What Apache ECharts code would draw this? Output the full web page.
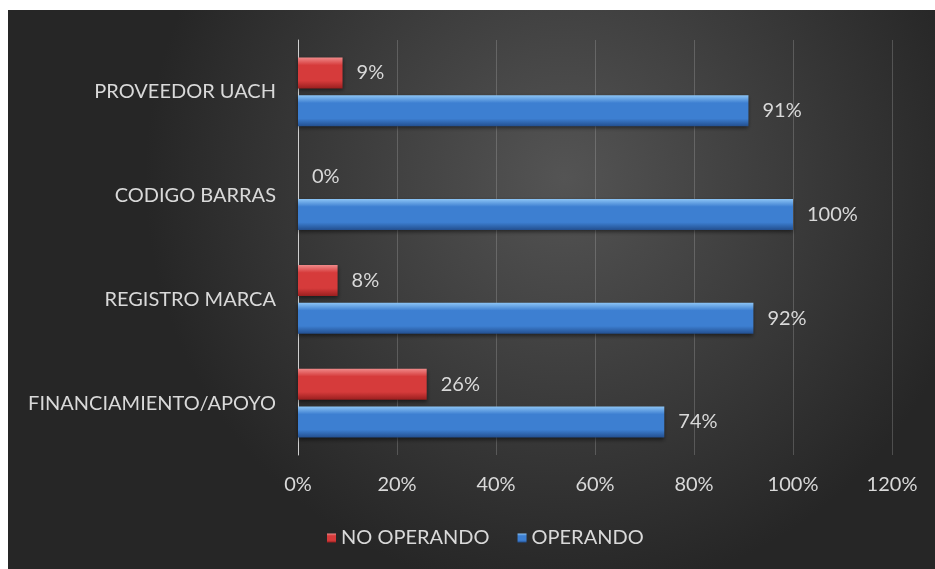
<!DOCTYPE html>
<html><head><meta charset="utf-8">
<script src="https://cdn.jsdelivr.net/npm/echarts@6/dist/echarts.min.js"></script>
<style>html,body{margin:0;padding:0;background:#fff}#c{width:935px;height:569px}</style>
</head><body><div id="c"></div>
<script>
const categories = ['FINANCIAMIENTO/APOYO', 'REGISTRO MARCA', 'CODIGO BARRAS', 'PROVEEDOR UACH'];
const noOperando = [26, 8, 0, 9];
const operando = [74, 92, 100, 91];
const xTicks = [0, 20, 40, 60, 80, 100, 120];

const chart = echarts.init(document.getElementById('c'));
const font = 'Lato, "Open Sans", sans-serif';
const txt = '#d9d9d9';
function grad(top, mid, bot) {
  return new echarts.graphic.LinearGradient(0, 0, 0, 1, [
    {offset: 0, color: top}, {offset: 0.25, color: mid}, {offset: 0.75, color: mid}, {offset: 1, color: bot}
  ]);
}
chart.setOption({
  backgroundColor: '#ffffff',
  animation: false,
  graphic: [{
    type: 'rect', z: -10, silent: true,
    shape: {x: 8, y: 10, width: 927, height: 559},
    style: {fill: new echarts.graphic.RadialGradient(0.6, 0.3, 0.75, [
      {offset: 0, color: '#545454'}, {offset: 1, color: '#262626'}
    ])}
  }],
  grid: {left: 298, right: 43, top: 40, bottom: 114, containLabel: false},
  xAxis: {
    type: 'value', min: xTicks[0], max: xTicks[xTicks.length - 1], interval: 20,
    axisLine: {show: false}, axisTick: {show: false},
    splitLine: {show: true, lineStyle: {color: 'rgba(200,200,200,0.25)', width: 1}},
    axisLabel: {color: txt, fontFamily: font, fontSize: 20, margin: 20, formatter: v => v + '%'}
  },
  yAxis: {
    type: 'category', data: categories,
    axisLine: {show: true, lineStyle: {color: '#cfcfcf', width: 1}},
    axisTick: {show: false},
    axisLabel: {color: txt, fontFamily: font, fontSize: 20, margin: 22}
  },
  legend: {
    data: ['NO OPERANDO', 'OPERANDO'], bottom: 16, left: 322,
    itemWidth: 9, itemHeight: 9, itemGap: 28, icon: 'rect',
    textStyle: {color: txt, fontFamily: font, fontSize: 20}
  },
  series: [
    {
      name: 'NO OPERANDO', type: 'bar', data: noOperando,
      barWidth: 31, barGap: '22%',
      itemStyle: {color: grad('#f08a8a', '#d63b3b', '#9a1f1f'), shadowColor: 'rgba(0,0,0,0.5)', shadowBlur: 4, shadowOffsetY: 2},
      label: {show: true, position: 'right', distance: 14, color: txt, fontFamily: font, fontSize: 20, formatter: p => p.value + '%'}
    },
    {
      name: 'OPERANDO', type: 'bar', data: operando,
      barWidth: 31, barGap: '22%',
      itemStyle: {color: grad('#8cc4f5', '#3d7fd1', '#234f8f'), shadowColor: 'rgba(0,0,0,0.5)', shadowBlur: 4, shadowOffsetY: 2},
      label: {show: true, position: 'right', distance: 14, color: txt, fontFamily: font, fontSize: 20, formatter: p => p.value + '%'}
    }
  ]
});
</script></body></html>
